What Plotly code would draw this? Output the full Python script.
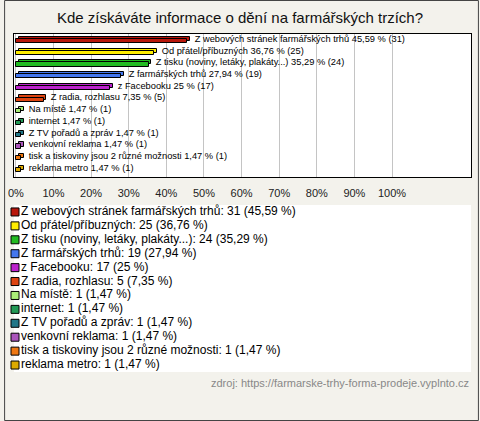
import plotly.graph_objects as go

categories = [
    "Z webových stránek farmářských trhů",
    "Od přátel/příbuzných",
    "Z tisku (noviny, letáky, plakáty...)",
    "Z farmářských trhů",
    "z Facebooku",
    "Z radia, rozhlasu",
    "Na místě",
    "internet",
    "Z TV pořadů a zpráv",
    "venkovní reklama",
    "tisk a tiskoviny jsou 2 různé možnosti",
    "reklama metro",
]
counts = [31, 25, 24, 19, 17, 5, 1, 1, 1, 1, 1, 1]
percents = [45.59, 36.76, 35.29, 27.94, 25, 7.35, 1.47, 1.47, 1.47, 1.47, 1.47, 1.47]
pct_labels = ["45,59", "36,76", "35,29", "27,94", "25", "7,35", "1,47", "1,47", "1,47", "1,47", "1,47", "1,47"]
colors = ["#b8170b", "#ffee00", "#22bb22", "#4477ee", "#bb22cc", "#dd4411",
          "#aaee77", "#229955", "#227788", "#aa55bb", "#ee7711", "#ddaa00"]
tick_vals = [0, 10, 20, 30, 40, 50, 60, 70, 80, 90, 100]
tick_text = ["0%", "10%", "20%", "30%", "40%", "50%", "60%", "70%", "80%", "90%", "100%"]

title = "Kde získáváte informace o dění na farmářských trzích?"
source = "zdroj: https://farmarske-trhy-forma-prodeje.vyplnto.cz"

ypos = list(range(len(categories)))
bar_text = [f"\u00a0\u00a0{c} {p} % ({n})" for c, p, n in zip(categories, pct_labels, counts)]
legend_text = [f"{c}: {n} ({p} %)" for c, p, n in zip(categories, pct_labels, counts)]

W, H = 480, 421
ml, mr, mt, mb = 10, 8, 34, 44
pw, ph = W - ml - mr, H - mt - mb

fig = go.Figure()

# depth (3D top face) - carries the label
fig.add_trace(go.Bar(
    x=percents, y=ypos, base=0.7, orientation="h", width=0.36, offset=-0.36,
    marker=dict(color=colors, line=dict(color="black", width=1)),
    text=bar_text, textposition="outside", constraintext="none",
    textfont=dict(family="Liberation Sans, Arial", size=9.3, color="black"),
    cliponaxis=False, hoverinfo="skip", showlegend=False,
))
# front face
fig.add_trace(go.Bar(
    x=percents, y=ypos, orientation="h", width=0.36,
    marker=dict(color=colors, line=dict(color="black", width=1)),
    showlegend=False,
))

# custom legend
fig.add_trace(go.Scatter(
    x=[0] * len(categories), y=ypos, mode="markers+text",
    marker=dict(symbol="square", size=8, color=colors, line=dict(color="black", width=1)),
    text=legend_text, textposition="middle right",
    textfont=dict(family="Liberation Sans, Arial", size=12, color="black"),
    xaxis="x2", yaxis="y2", showlegend=False, cliponaxis=False, hoverinfo="skip",
))

bars_bottom = 1 - 143 / ph
fig.update_layout(
    width=W, height=H,
    margin=dict(l=ml, r=mr, t=mt, b=mb),
    paper_bgcolor="#f3f2ec", plot_bgcolor="white",
    barmode="overlay", bargap=0,
    showlegend=False,
    title=dict(text=title, x=0.5, xanchor="center", y=1 - 18 / H, yanchor="middle",
               font=dict(family="Liberation Sans, Arial", size=15, color="#111")),
    xaxis=dict(range=[-0.5, 121], tickvals=tick_vals, ticktext=tick_text,
               showgrid=True, gridcolor="#c4c4c4", gridwidth=1, zeroline=False,
               showline=True, linecolor="black", linewidth=1, mirror=True,
               ticks="", ticklabelstandoff=6,
               tickfont=dict(family="Liberation Sans, Arial", size=11, color="#222")),
    yaxis=dict(range=[11.6, -0.6], domain=[bars_bottom, 1], showticklabels=False,
               showgrid=False, zeroline=False, showline=True, linecolor="black",
               linewidth=1, mirror=True, ticks=""),
    xaxis2=dict(domain=[0, 1], range=[-0.1, 45], visible=False, anchor="y2"),
    yaxis2=dict(domain=[(H - mb - 372) / ph, (H - mb - 205) / ph],
                range=[11.5, -0.5], visible=False, anchor="x2"),
    annotations=[dict(text=source, xref="paper", yref="paper",
                      x=(472 - ml) / pw, y=(H - mb - 383) / ph, xanchor="right", yanchor="middle",
                      showarrow=False,
                      font=dict(family="Liberation Sans, Arial", size=11, color="#888"))],
    shapes=[dict(type="rect", xref="paper", yref="paper",
                 x0=(0.5 - ml) / pw, x1=(479.5 - ml) / pw,
                 y0=(H - mb - 420.5) / ph, y1=(H - mb - 0.5) / ph,
                 line=dict(color="#444", width=1), layer="below")],
)

fig.write_html("out.html", config={"displayModeBar": False},
               post_script="document.body.style.margin='0';document.body.style.overflow='hidden';")
